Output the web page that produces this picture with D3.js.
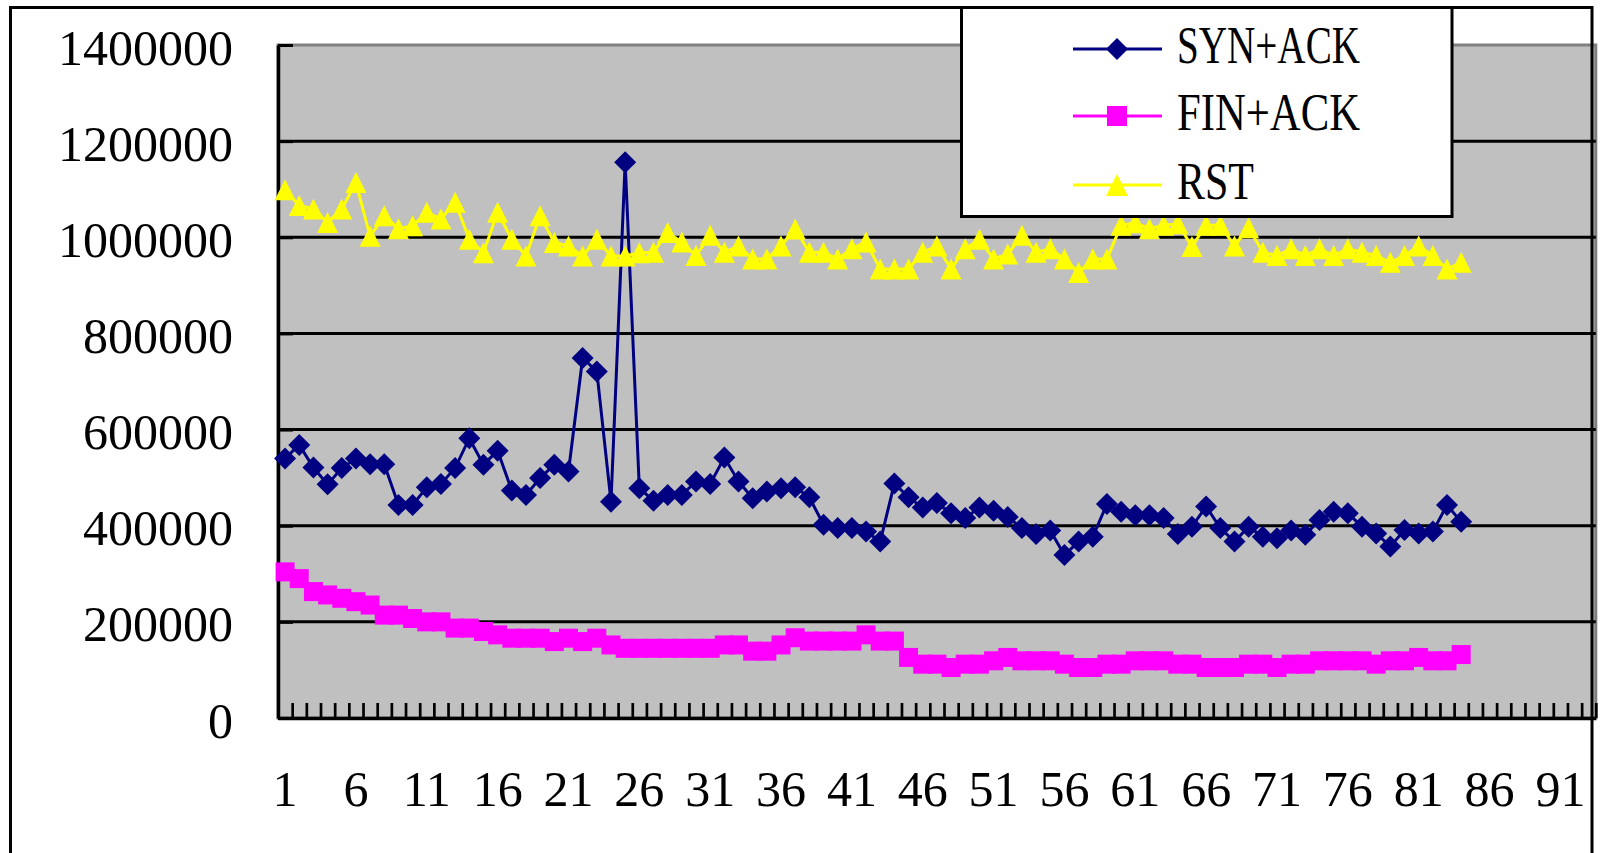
<!DOCTYPE html>
<html>
<head>
<meta charset="utf-8">
<script src="https://cdn.jsdelivr.net/npm/d3@7"></script>
<style>
  body { margin: 0; background: #fff; }
  text { font-family: "Liberation Serif", "Times New Roman", serif; }
</style>
</head>
<body>
<div class="container"></div>
<script>
// svg container
var svgWidth = 1602;
var svgHeight = 853;

// plot area edges (Excel style chart)
var plot = { left: 278, top: 45, bottom: 718 };
var categoryWidth = 14.17;

// data
var categories = d3.range(1, 94);          // 93 category slots on the x axis
var xTickLabels = [1, 6, 11, 16, 21, 26, 31, 36, 41, 46, 51, 56, 61, 66, 71, 76, 81, 86, 91];
var yTickValues = [0, 200000, 400000, 600000, 800000, 1000000, 1200000, 1400000];
var seriesNames = ["SYN+ACK", "FIN+ACK", "RST"];

var synAck = [540000, 568000, 521000, 486000, 520000, 540000, 528000, 528000, 443000, 443000,
  480000, 487000, 520000, 582000, 527000, 556000, 473000, 464000, 499000, 527000,
  513000, 749000, 721000, 450000, 1156000, 478000, 452000, 464000, 464000, 492000,
  487000, 542000, 492000, 457000, 471000, 478000, 480000, 459000, 402000, 395000,
  395000, 388000, 367000, 488000, 459000, 438000, 447000, 426000, 416000, 438000,
  431000, 418000, 395000, 383000, 390000, 339000, 367000, 377000, 445000, 429000,
  422000, 422000, 416000, 383000, 398000, 440000, 395000, 367000, 398000, 377000,
  374000, 390000, 381000, 412000, 429000, 426000, 398000, 384000, 357000, 391000,
  384000, 388000, 443000, 408000];

var finAck = [304000, 290000, 263000, 256000, 249000, 242000, 235000, 214000, 214000, 207000,
  200000, 200000, 187000, 187000, 180000, 173000, 166000, 166000, 166000, 159000,
  166000, 159000, 166000, 152000, 145000, 145000, 145000, 145000, 145000, 145000,
  145000, 152000, 152000, 139000, 139000, 152000, 167000, 160000, 160000, 160000,
  160000, 173000, 160000, 160000, 126000, 112000, 112000, 105000, 112000, 112000,
  119000, 126000, 119000, 119000, 119000, 112000, 105000, 105000, 112000, 112000,
  119000, 119000, 119000, 112000, 112000, 105000, 105000, 105000, 112000, 112000,
  105000, 112000, 112000, 119000, 119000, 119000, 119000, 112000, 119000, 119000,
  126000, 119000, 119000, 132000];

var rst = [1099000, 1066000, 1059000, 1031000, 1059000, 1114000, 1002000, 1045000, 1018000, 1024000,
  1052000, 1038000, 1073000, 996000, 968000, 1052000, 996000, 961000, 1045000, 989000,
  982000, 961000, 996000, 961000, 961000, 968000, 969000, 1010000, 990000, 962000,
  1004000, 969000, 982000, 955000, 955000, 982000, 1017000, 969000, 969000, 955000,
  976000, 990000, 934000, 934000, 934000, 969000, 982000, 934000, 976000, 996000,
  955000, 965000, 1004000, 969000, 976000, 955000, 927000, 955000, 955000, 1025000,
  1030000, 1018000, 1025000, 1028000, 981000, 1025000, 1025000, 982000, 1020000, 969000,
  962000, 976000, 962000, 976000, 962000, 976000, 969000, 962000, 948000, 962000,
  982000, 962000, 934000, 948000];

var seriesColors = ["#000080", "#FF00FF", "#FFFF00"];
var seriesMarkers = ["diamond", "square", "triangle"];

// marker shapes
function markerPath(type, r) {
  if (type === "diamond") return `M0,${-r}L${r},0L0,${r}L${-r},0Z`;
  if (type === "square") return `M${-r},${-r}H${r}V${r}H${-r}Z`;
  return `M0,${-r}L${r},${r}L${-r},${r}Z`;
}

var svg = d3.select(".container")
  .append("svg")
  .attr("width", svgWidth)
  .attr("height", svgHeight);

// scales
var xScale = d3.scaleBand()
  .domain(categories)
  .range([plot.left, plot.left + categories.length * categoryWidth])
  .padding(0);
var plotRight = plot.left + categories.length * categoryWidth;

var xEdges = d3.scaleLinear()
  .domain([0, categories.length])
  .range([plot.left, plotRight]);

var yScale = d3.scaleLinear()
  .domain([0, 1400000])
  .range([plot.bottom, plot.top]);

// plot area background
svg.append("rect")
  .attr("x", plot.left)
  .attr("y", plot.top)
  .attr("width", plotRight - plot.left)
  .attr("height", plot.bottom - plot.top)
  .attr("fill", "#C0C0C0")
  .attr("stroke", "#808080")
  .attr("stroke-width", 3);

// gridlines
svg.append("g")
  .selectAll("line")
  .data(yTickValues.filter(d => d > 0 && d < 1400000))
  .enter()
  .append("line")
  .attr("x1", plot.left)
  .attr("x2", plotRight)
  .attr("y1", d => yScale(d))
  .attr("y2", d => yScale(d))
  .attr("stroke", "#000")
  .attr("stroke-width", 3);

// y axis, ticks inside
var leftAxis = d3.axisLeft(yScale)
  .tickValues(yTickValues)
  .tickFormat(d3.format("d"))
  .tickSizeInner(-15)
  .tickSizeOuter(0)
  .tickPadding(45);

var yAxisG = svg.append("g")
  .attr("transform", `translate(${plot.left}, 0)`)
  .call(leftAxis);
yAxisG.selectAll("line").attr("stroke", "#000").attr("stroke-width", 3);
yAxisG.select(".domain").attr("stroke", "#000").attr("stroke-width", 3.5);
yAxisG.selectAll("text")
  .attr("dy", "0.38em")
  .attr("font-size", 50)
  .attr("fill", "#000");

// x axis tick marks on category edges
var tickAxis = d3.axisBottom(xEdges)
  .tickValues(d3.range(0, categories.length + 1))
  .tickFormat("")
  .tickSizeInner(-15)
  .tickSizeOuter(0);

var xTickG = svg.append("g")
  .attr("transform", `translate(0, ${plot.bottom})`)
  .call(tickAxis);
xTickG.selectAll("line").attr("stroke", "#000").attr("stroke-width", 2.7);
xTickG.select(".domain").attr("stroke", "#000").attr("stroke-width", 3.5);

// x axis labels at category centres
var labelAxis = d3.axisBottom(xScale)
  .tickValues(xTickLabels)
  .tickSize(0);

var xLabelG = svg.append("g")
  .attr("transform", `translate(0, ${plot.bottom})`)
  .call(labelAxis);
xLabelG.select(".domain").remove();
xLabelG.selectAll("text")
  .attr("y", 88)
  .attr("dy", null)
  .attr("font-size", 50)
  .attr("fill", "#000");

// series
var allSeries = [synAck, finAck, rst];
var lineGen = d3.line()
  .x((d, i) => xScale(categories[i]) + xScale.bandwidth() / 2)
  .y(d => yScale(d));

var markerSize = { diamond: 11, square: 9.5, triangle: 10.5 };

allSeries.forEach(function(values, s) {
  var g = svg.append("g").attr("class", "series");
  g.append("path")
    .datum(values)
    .attr("d", lineGen)
    .attr("fill", "none")
    .attr("stroke", seriesColors[s])
    .attr("stroke-width", 3);

  g.selectAll("path.marker")
    .data(values)
    .enter()
    .append("path")
    .attr("class", "marker")
    .attr("transform", (d, i) => `translate(${xScale(categories[i]) + xScale.bandwidth() / 2}, ${yScale(d)})`)
    .attr("d", markerPath(seriesMarkers[s], markerSize[seriesMarkers[s]]))
    .attr("fill", seriesColors[s]);
});

// outer chart frame (runs off the bottom of the picture)
svg.append("rect")
  .attr("x", 10.5)
  .attr("y", 7.5)
  .attr("width", 1592 - 10.5)
  .attr("height", 900)
  .attr("fill", "none")
  .attr("stroke", "#000")
  .attr("stroke-width", 3);

// legend
var legend = svg.append("g");
legend.append("rect")
  .attr("x", 961.5)
  .attr("y", 7.5)
  .attr("width", 1452 - 961.5)
  .attr("height", 216.5 - 7.5)
  .attr("fill", "#fff")
  .attr("stroke", "#000")
  .attr("stroke-width", 3);

var legendRows = [49, 116, 185];
var legendTextLength = [183, 183, 77];

seriesNames.forEach(function(name, s) {
  var row = legend.append("g").attr("transform", `translate(0, ${legendRows[s]})`);
  row.append("line")
    .attr("x1", 1073)
    .attr("x2", 1162)
    .attr("stroke", seriesColors[s])
    .attr("stroke-width", 3);
  row.append("path")
    .attr("transform", "translate(1117, 0)")
    .attr("d", markerPath(seriesMarkers[s], s === 1 ? 10 : 11))
    .attr("fill", seriesColors[s]);
  row.append("text")
    .attr("x", 1177)
    .attr("y", 14)
    .attr("font-size", 53)
    .attr("textLength", legendTextLength[s])
    .attr("lengthAdjust", "spacingAndGlyphs")
    .text(name);
});
</script>
</body>
</html>
